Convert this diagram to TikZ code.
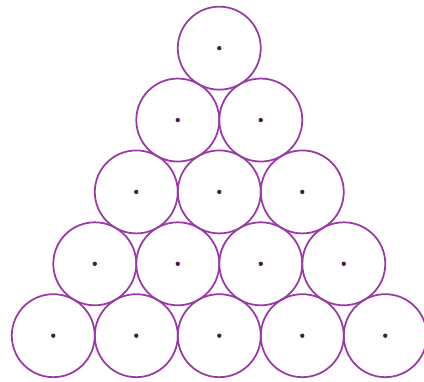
\documentclass[tikz,border=0pt]{standalone}
\begin{document}
\begin{tikzpicture}
    % Define radius and row height
    \def\ballRadius{1}
    \def\rowHeight{1.7321}

    \definecolor{ringColour}{HTML}{9A38A6}
    \definecolor{dotColour}{HTML}{4A1C4C}

    % Fix the picture size
    \useasboundingbox (-1.284,-1.092) rectangle (8.933,8.089);

    % Draw rows of balls, five at the bottom, one at the top
    \foreach \row in {0,1,...,4}
        \foreach \col in {0,...,\numexpr4-\row\relax}
        {
            \coordinate (B\row\col) at (\row+2*\col, \row*\rowHeight);
            \draw[ringColour, line width=1.2pt] (B\row\col) circle (\ballRadius);
            \fill[dotColour] (B\row\col) circle (1.5pt);
        }

\end{tikzpicture}
\end{document}
